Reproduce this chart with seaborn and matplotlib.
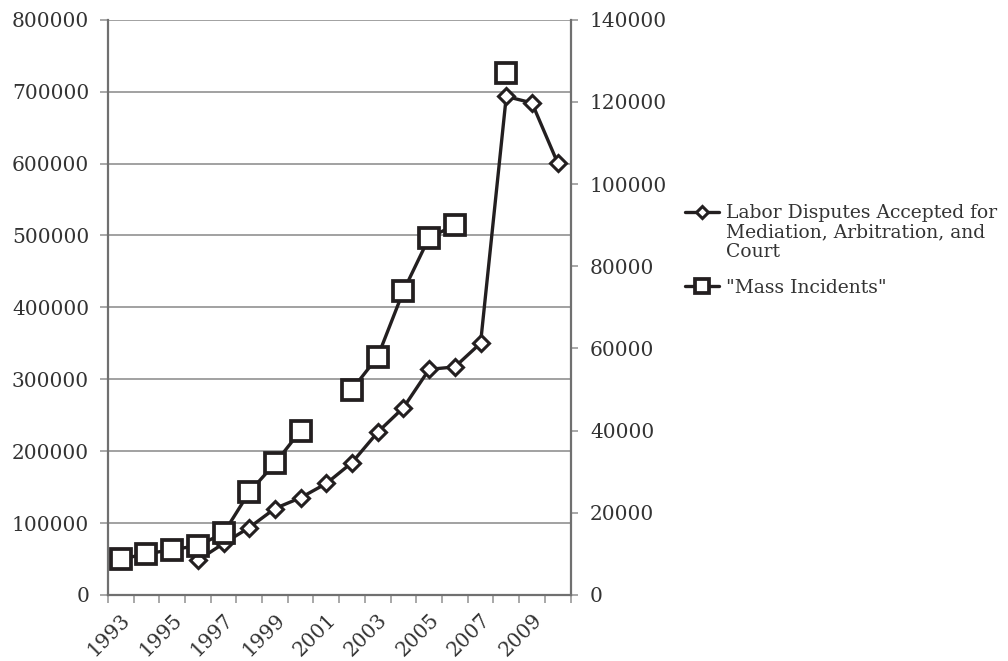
import numpy as np
import pandas as pd
import seaborn as sns
import matplotlib.pyplot as plt
from matplotlib.ticker import MultipleLocator, FixedLocator

# Years shown on the category axis
years = list(range(1993, 2011))

# Labor disputes accepted (left axis) - no data before 1996
labor_disputes = [np.nan, np.nan, np.nan, 48121, 71524, 93649, 120191, 135206,
                  155000, 184116, 226391, 260471, 313773, 317162, 350182,
                  693465, 684379, 600865]

# "Mass incidents" (right axis) - gaps in 2001, 2007, 2009, 2010
mass_incidents = [8700, 10000, 11000, 12000, 15000, 25000, 32000, 40000,
                  np.nan, 50000, 58000, 74000, 87000, 90000, np.nan,
                  127000, np.nan, np.nan]

x_labels = [str(y) for y in range(1993, 2011, 2)]

labor_label = "Labor Disputes Accepted for\nMediation, Arbitration, and\nCourt"
mass_label = '"Mass Incidents"'

df = pd.DataFrame({"year": years, "labor": labor_disputes, "mass": mass_incidents})
# break the mass incidents line where values are missing
df["segment"] = df["mass"].isna().cumsum()

sns.set_style("white")
plt.rcParams["font.family"] = ["DejaVu Serif"]

line_col = "#231f20"
grid_col = "#9a9a9a"
spine_col = "#707070"
text_col = "#333333"

fig = plt.figure(figsize=(10.08, 6.61), dpi=100)
ax = fig.add_axes([0.107, 0.100, 0.459, 0.870])
ax2 = ax.twinx()

sns.lineplot(data=df.dropna(subset=["labor"]), x="year", y="labor", ax=ax,
             color=line_col, linewidth=2.4, marker="D", markersize=8.5,
             markerfacecolor="white", markeredgecolor=line_col,
             markeredgewidth=2.2, label=labor_label, legend=False)

sns.lineplot(data=df.dropna(subset=["mass"]), x="year", y="mass", ax=ax2,
             units="segment", estimator=None,
             color=line_col, linewidth=2.4, marker="s", markersize=14,
             markerfacecolor="white", markeredgecolor=line_col,
             markeredgewidth=2.7, label=mass_label, legend=False)

ax.set_xlim(1992.5, 2010.5)
ax.set_ylim(0, 800000)
ax2.set_ylim(0, 140000)
ax.yaxis.set_major_locator(MultipleLocator(100000))
ax2.yaxis.set_major_locator(MultipleLocator(20000))

ax.set_xticks(range(1993, 2011, 2))
ax.set_xticklabels(x_labels, rotation=45, ha="right", rotation_mode="anchor")
ax.xaxis.set_minor_locator(FixedLocator(np.arange(1992.5, 2011, 1.0)))
ax.tick_params(axis="x", which="major", length=0, pad=11, labelsize=14.5, labelcolor=text_col)
ax.tick_params(axis="x", which="minor", length=6, width=1.2, color=grid_col, bottom=True)
ax.tick_params(axis="y", length=6, width=1.2, color=grid_col, pad=7.5,
               labelsize=14.5, labelcolor=text_col, left=True)
ax2.tick_params(axis="y", length=5, width=1.2, color=grid_col, pad=9,
                labelsize=14.5, labelcolor=text_col, right=True)

ax.grid(axis="y", color=grid_col, linewidth=1.3)
ax.set_axisbelow(True)
ax.set_xlabel("")
ax.set_ylabel("")
ax2.set_ylabel("")

for a in (ax, ax2):
    a.spines["top"].set_visible(False)
    for s in ("left", "right", "bottom"):
        a.spines[s].set_color(spine_col)
        a.spines[s].set_linewidth(1.6)
ax.spines["right"].set_visible(False)
ax2.spines["left"].set_visible(False)
ax2.spines["bottom"].set_visible(False)

h1, l1 = ax.get_legend_handles_labels()
h2, l2 = ax2.get_legend_handles_labels()
legend_size = 13.5
leg = fig.legend(h1 + h2[:1], l1 + l2[:1], loc="upper left",
                 bbox_to_anchor=(0.663, 0.717), frameon=False,
                 fontsize=legend_size, handlelength=1.8, handletextpad=0.4,
                 labelspacing=0.95, labelcolor=text_col)
for t in leg.get_texts():
    t.set_linespacing(1.1)
leg.legend_handles[0].set_markersize(6.5)
leg.legend_handles[1].set_markersize(10)
# put the first handle next to the first line of its wrapped label
first = leg.legend_handles[0]
first.set_ydata(np.asarray(first.get_ydata()) + 1.1 * legend_size)

fig.savefig("out.png", dpi=100)
